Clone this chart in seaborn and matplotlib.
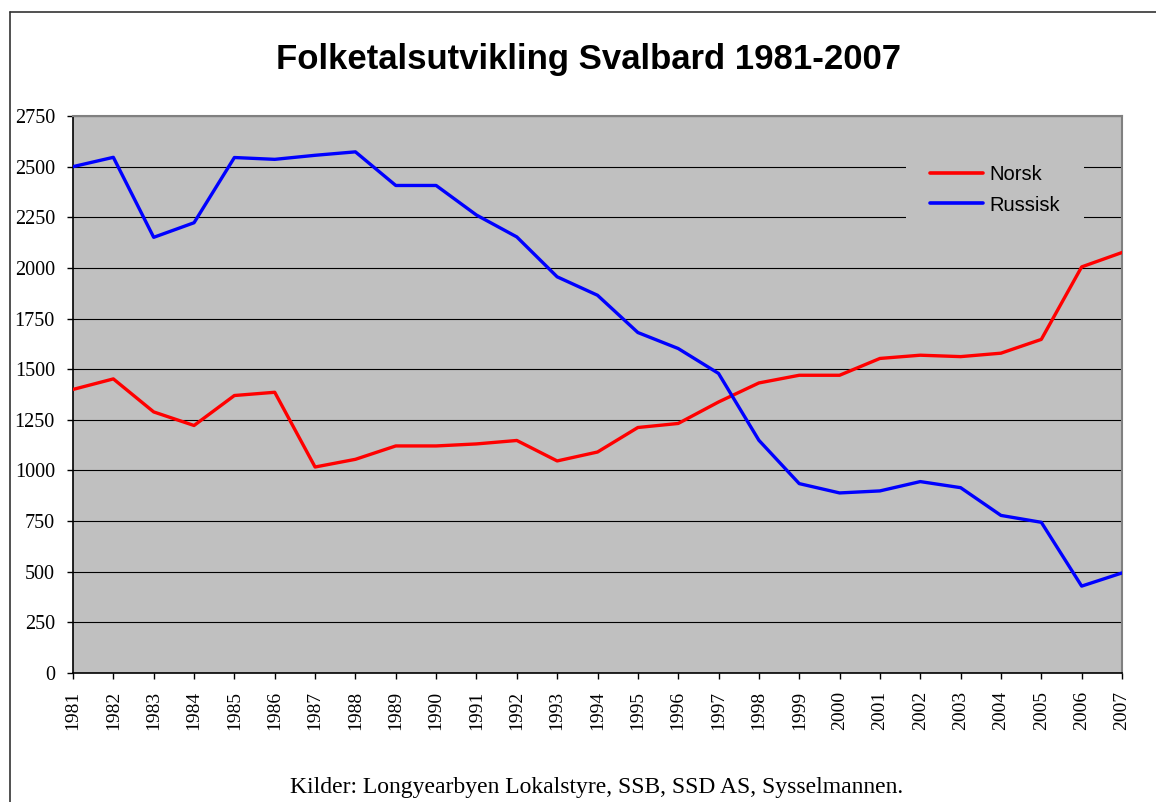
import numpy as np
import pandas as pd
import matplotlib
matplotlib.use('Agg')
import matplotlib.pyplot as plt
import seaborn as sns
from matplotlib.lines import Line2D

# ──────────────────────────────────────────────────────────────
#  DONNÉES
# ──────────────────────────────────────────────────────────────
annees = list(range(1981, 2008))

norsk = [1400, 1452, 1289, 1222, 1370, 1386, 1017, 1055, 1121, 1121,
         1131, 1148, 1047, 1091, 1212, 1232, 1338, 1432, 1470, 1470,
         1553, 1569, 1562, 1579, 1647, 2005, 2076]

russisk = [2500, 2546, 2151, 2223, 2545, 2536, 2556, 2573, 2407, 2407,
           2261, 2153, 1956, 1865, 1681, 1602, 1479, 1149, 935, 889,
           899, 945, 915, 778, 744, 429, 494]

series = ['Norsk', 'Russisk']
couleurs = {'Norsk': '#ff0000', 'Russisk': '#0000ff'}

titre = 'Folketalsutvikling Svalbard 1981-2007'
source = 'Kilder: Longyearbyen Lokalstyre, SSB, SSD AS, Sysselmannen.'

df = pd.DataFrame({
    'annee': annees * 2,
    'folketal': norsk + russisk,
    'serie': ['Norsk'] * len(annees) + ['Russisk'] * len(annees),
})

# ──────────────────────────────────────────────────────────────
#  STYLE
# ──────────────────────────────────────────────────────────────
sns.set_style('white')
plt.rcParams['font.family'] = ['Liberation Serif', 'DejaVu Serif']
plt.rcParams['text.color'] = 'black'
plt.rcParams['axes.labelcolor'] = 'black'
plt.rcParams['xtick.color'] = 'black'
plt.rcParams['ytick.color'] = 'black'

W, H = 1156, 802
fig = plt.figure(figsize=(W / 100, H / 100), dpi=100)
ax = fig.add_axes([73 / W, 1 - 673 / H, (1122 - 73) / W, (673 - 116) / H])
ax.set_facecolor('#c0c0c0')

sns.lineplot(data=df, x='annee', y='folketal', hue='serie', hue_order=series,
             palette=couleurs, linewidth=2.4, ax=ax, legend=False, zorder=3)

ax.set_xlim(1981, 2007)
ax.set_ylim(0, 2750)
ax.set_xticks(annees)
ax.set_xticklabels([str(a) for a in annees], rotation=90, fontsize=14)
ax.set_yticks(np.arange(0, 2751, 250))
ax.set_yticklabels([str(v) for v in range(0, 2751, 250)], fontsize=14.5)
ax.set_xlabel('')
ax.set_ylabel('')

ax.grid(axis='y', color='black', linewidth=0.8, zorder=1)
ax.grid(axis='x', visible=False)
ax.set_axisbelow(True)

ax.tick_params(axis='both', which='both', direction='out', length=4,
               width=1, color='black', labelcolor='black')
ax.tick_params(axis='y', pad=9)
ax.tick_params(axis='x', pad=9)
ax.yaxis.set_ticks_position('left')
ax.xaxis.set_ticks_position('bottom')

for cote in ['left', 'bottom']:
    ax.spines[cote].set_color('black')
    ax.spines[cote].set_linewidth(1.2)
for cote in ['top', 'right']:
    ax.spines[cote].set_color('#808080')
    ax.spines[cote].set_linewidth(1.5)

# Légende
poignees = [Line2D([0], [0], color=couleurs[s], linewidth=2.6) for s in series]
leg = ax.legend(poignees, series, loc='center',
                bbox_to_anchor=(995 / W, 1 - 190 / H), bbox_transform=fig.transFigure,
                prop={'family': 'Liberation Sans', 'size': 14.5},
                facecolor='#c0c0c0', edgecolor='none', framealpha=1,
                handlelength=2.6, handletextpad=0.3, labelspacing=0.55,
                borderpad=1.2, fancybox=False)
for t in leg.get_texts():
    t.set_color('black')
leg.set_zorder(5)

# Titre et source
fig.text(588 / W, 1 - 60 / H, titre, ha='center', va='center', color='black',
         fontsize=25, fontweight='bold', family='Liberation Sans')
fig.text(597 / W, 1 - 787 / H, source, ha='center', va='center', color='black',
         fontsize=17)

# Cadre du graphique (bords haut et gauche)
fig.add_artist(Line2D([10 / W, 10 / W], [0, 1 - 12 / H], transform=fig.transFigure,
                      color='#333333', linewidth=1.2))
fig.add_artist(Line2D([10 / W, 1], [1 - 12 / H, 1 - 12 / H], transform=fig.transFigure,
                      color='#333333', linewidth=1.2))

fig.savefig('out.png', dpi=100, facecolor='white')
